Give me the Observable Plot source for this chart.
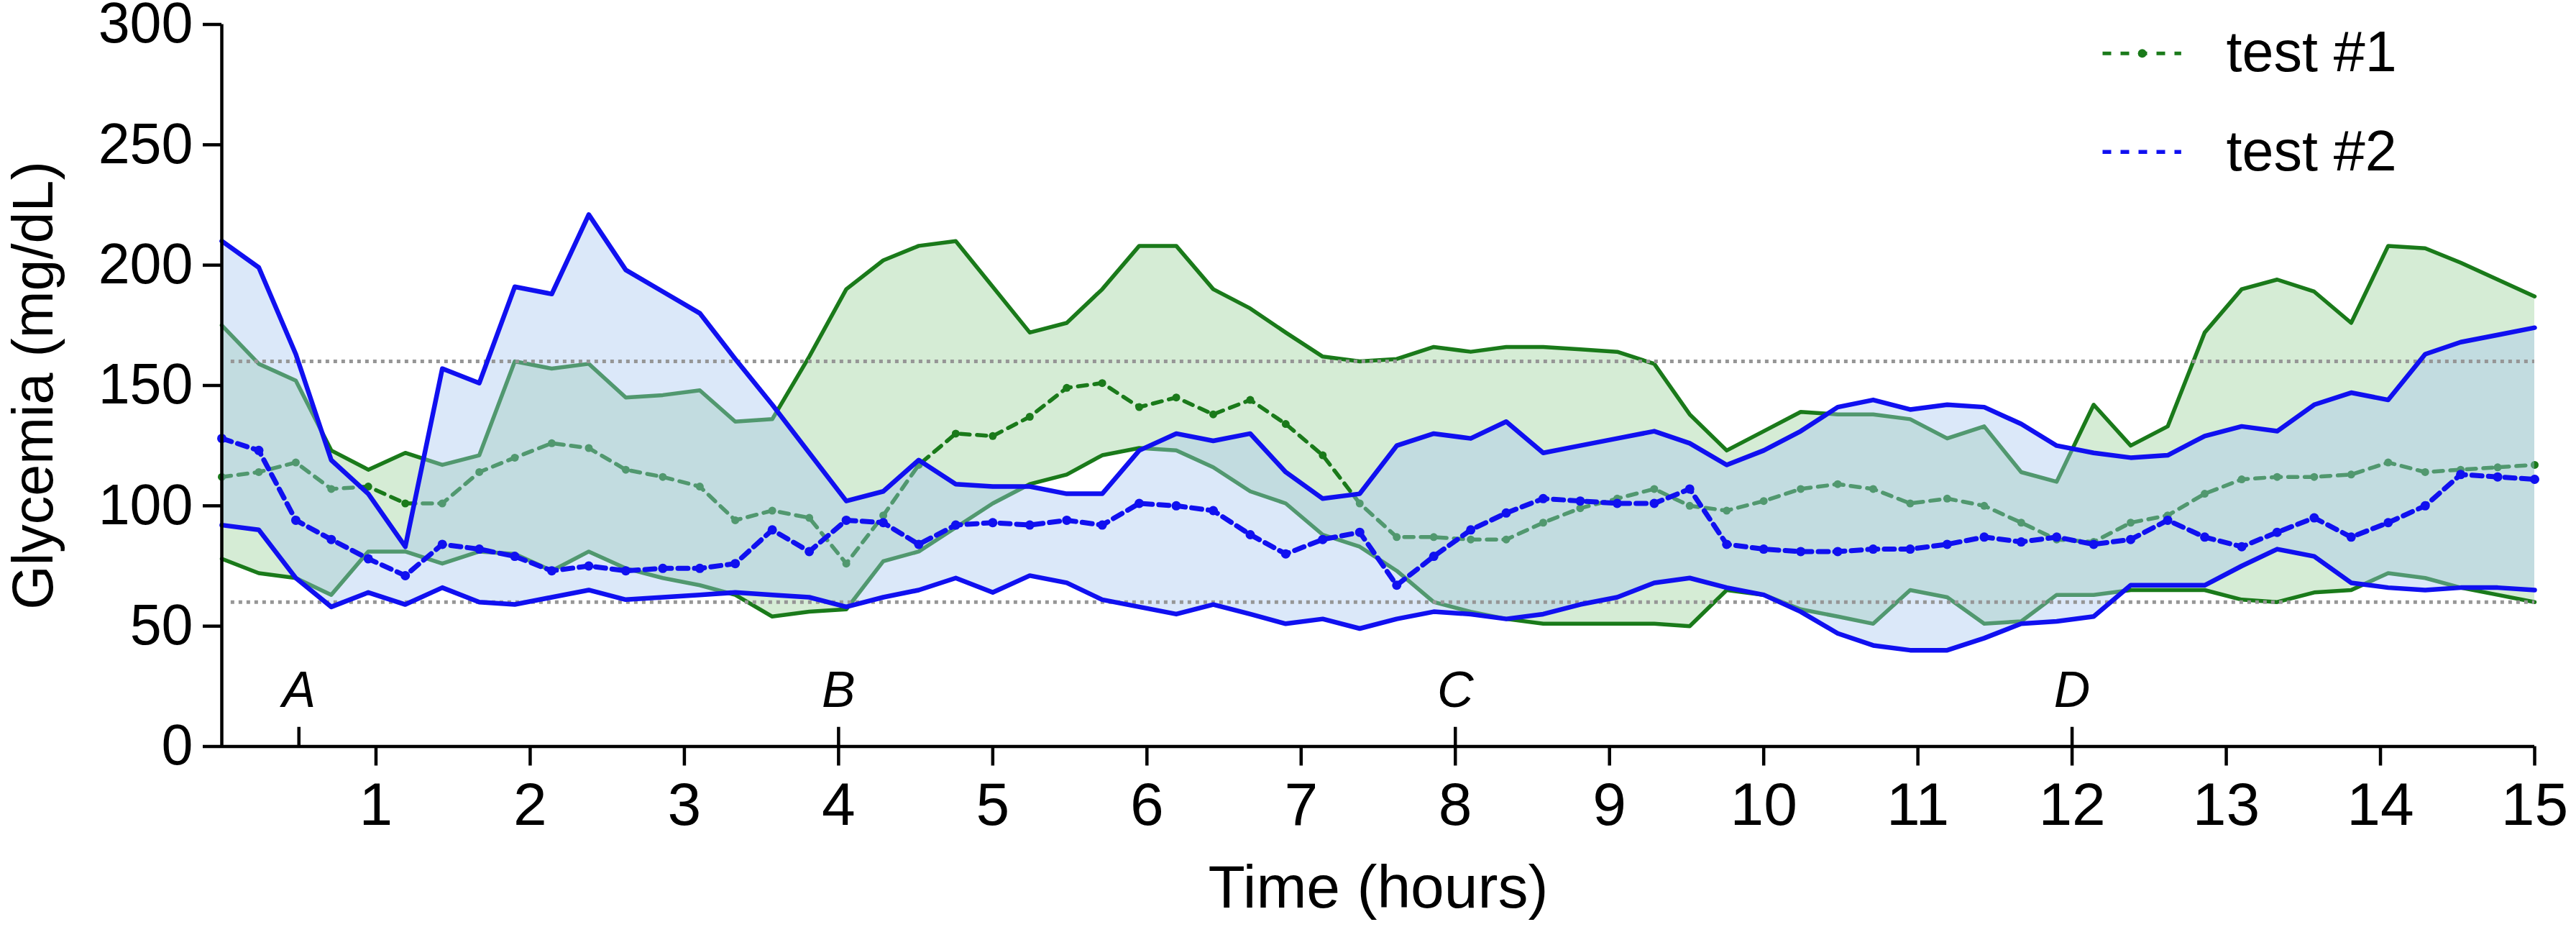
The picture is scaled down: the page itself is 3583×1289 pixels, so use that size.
<!DOCTYPE html>
<html>
<head>
<meta charset="utf-8">
<script src="https://cdn.jsdelivr.net/npm/d3@7"></script>
<script src="https://cdn.jsdelivr.net/npm/@observablehq/plot@0.6"></script>
<style>
  html, body { margin: 0; padding: 0; background: #ffffff; }
  #chart svg { display: block; overflow: visible; }
</style>
</head>
<body>
<div id="chart"></div>
<script>
// ---- data ----
const hours = [0.00, 0.24, 0.48, 0.71, 0.95, 1.19, 1.43, 1.67, 1.90, 2.14, 2.38, 2.62, 2.86, 3.10, 3.33, 3.57,
  3.81, 4.05, 4.29, 4.52, 4.76, 5.00, 5.24, 5.48, 5.71, 5.95, 6.19, 6.43, 6.67, 6.90, 7.14, 7.38,
  7.62, 7.86, 8.10, 8.33, 8.57, 8.81, 9.05, 9.29, 9.52, 9.76, 10.00, 10.24, 10.48, 10.71, 10.95, 11.19,
  11.43, 11.67, 11.90, 12.14, 12.38, 12.62, 12.86, 13.10, 13.33, 13.57, 13.81, 14.05, 14.29, 14.52, 14.76, 15.00];

const test1Upper = [175, 159, 152, 123, 115, 122, 117, 121, 160, 157, 159, 145, 146, 148, 135, 136,
  162, 190, 202, 208, 210, 191, 172, 176, 190, 208, 208, 190, 182, 172, 162, 160,
  161, 166, 164, 166, 166, 165, 164, 159, 138, 123, 131, 139, 138, 138, 136, 128,
  133, 114, 110, 142, 125, 133, 172, 190, 194, 189, 176, 208, 207, 201, 194, 187];

const test1Lower = [78, 72, 70, 63, 81, 81, 76, 81, 80, 73, 81, 74, 70, 67, 63, 54,
  56, 57, 77, 81, 91, 101, 109, 113, 121, 124, 123, 116, 106, 101, 88, 83,
  73, 60, 56, 53, 51, 51, 51, 51, 50, 65, 63, 57, 54, 51, 65, 62,
  51, 52, 63, 63, 65, 65, 65, 61, 60, 64, 65, 72, 70, 66, 63, 60];

const test1Mean = [112, 114, 118, 107, 108, 101, 101, 114, 120, 126, 124, 115, 112, 108, 94, 98,
  95, 76, 96, 117, 130, 129, 137, 149, 151, 141, 145, 138, 144, 134, 121, 101,
  87, 87, 86, 86, 93, 99, 103, 107, 100, 98, 102, 107, 109, 107, 101, 103,
  100, 93, 86, 85, 93, 96, 105, 111, 112, 112, 113, 118, 114, 115, 116, 117];

const test2Upper = [210, 199, 163, 119, 105, 83, 157, 151, 191, 188, 221, 198, 189, 180, 161, 142,
  122, 102, 106, 119, 109, 108, 108, 105, 105, 123, 130, 127, 130, 114, 103, 105,
  125, 130, 128, 135, 122, 125, 128, 131, 126, 117, 123, 131, 141, 144, 140, 142,
  141, 134, 125, 122, 120, 121, 129, 133, 131, 142, 147, 144, 163, 168, 171, 174];

const test2Lower = [92, 90, 70, 58, 64, 59, 66, 60, 59, 62, 65, 61, 62, 63, 64, 63,
  62, 58, 62, 65, 70, 64, 71, 68, 61, 58, 55, 59, 55, 51, 53, 49,
  53, 56, 55, 53, 55, 59, 62, 68, 70, 66, 63, 56, 47, 42, 40, 40,
  45, 51, 52, 54, 67, 67, 67, 75, 82, 79, 68, 66, 65, 66, 66, 65];

const test2Mean = [128, 123, 94, 86, 78, 71, 84, 82, 79, 73, 75, 73, 74, 74, 76, 90,
  81, 94, 93, 84, 92, 93, 92, 94, 92, 101, 100, 98, 88, 80, 86, 89,
  67, 79, 90, 97, 103, 102, 101, 101, 107, 84, 82, 81, 81, 82, 82, 84,
  87, 85, 87, 84, 86, 94, 87, 83, 89, 95, 87, 93, 100, 113, 112, 111];

const seriesNames = ["test #1", "test #2"];
const xTicks = [1, 2, 3, 4, 5, 6, 7, 8, 9, 10, 11, 12, 13, 14, 15];
const yTicks = [0, 50, 100, 150, 200, 250, 300];
const eventLabels = ["A", "B", "C", "D"];
const eventHours = [0.5, 4, 8, 12];
const targetLimits = [60, 160];

// ---- styles ----
const GREEN = "#1a7a1a";
const BLUE = "#1010f0";
const GREEN_FILL = "#d5ecd5";
const BLUE_FILL = "#a5c6f0";
const FONT = "'Liberation Sans', Arial, Helvetica, sans-serif";

const rows = hours.map((t, i) => ({
  t,
  gHi: test1Upper[i], gLo: test1Lower[i], gMean: test1Mean[i],
  bHi: test2Upper[i], bLo: test2Lower[i], bMean: test2Mean[i]
}));

const legendRows = seriesNames.map((name, i) => ({
  name,
  y: i === 0 ? 288 : 247,
  color: i === 0 ? GREEN : BLUE,
  width: i === 0 ? 5 : 5.5
}));

const events = eventLabels.map((label, i) => ({label, t: eventHours[i]}));

const chart = Plot.plot({
  width: 3583,
  height: 1289,
  marginLeft: 308,
  marginRight: 58,
  marginTop: 33.5,
  marginBottom: 251.5,
  style: {fontFamily: FONT, background: "#ffffff", color: "#000000", overflow: "visible"},
  x: {domain: [0, 15]},
  y: {domain: [0, 300]},
  marks: [
    // test #1 band
    Plot.areaY(rows, {x: "t", y1: "gLo", y2: "gHi", fill: GREEN_FILL}),
    Plot.line(rows, {x: "t", y: "gHi", stroke: GREEN, strokeWidth: 5.5}),
    Plot.line(rows, {x: "t", y: "gLo", stroke: GREEN, strokeWidth: 5.5}),
    Plot.line(rows, {x: "t", y: "gMean", stroke: GREEN, strokeWidth: 5.5, strokeDasharray: "13,10"}),
    Plot.dot(rows, {x: "t", y: "gMean", r: 5.5, fill: GREEN, stroke: "none"}),
    // test #2 band (semi-transparent over test #1)
    Plot.areaY(rows, {x: "t", y1: "bLo", y2: "bHi", fill: BLUE_FILL, fillOpacity: 0.4}),
    // target range
    Plot.ruleY(targetLimits, {x1: 0.06, x2: 15, stroke: "#969696", strokeWidth: 5, strokeDasharray: "5,6"}),
    Plot.line(rows, {x: "t", y: "bHi", stroke: BLUE, strokeWidth: 6.5}),
    Plot.line(rows, {x: "t", y: "bLo", stroke: BLUE, strokeWidth: 6.5}),
    Plot.line(rows, {x: "t", y: "bMean", stroke: BLUE, strokeWidth: 7, strokeDasharray: "14,9"}),
    Plot.dot(rows, {x: "t", y: "bMean", r: 6.5, fill: BLUE, stroke: "none"}),
    // axes
    Plot.axisY({ticks: yTicks, tickSize: 26, tickPadding: 14, strokeWidth: 4.5, fontSize: 79,
      label: "Glycemia (mg/dL)", labelAnchor: "center", labelOffset: 292, labelArrow: "none"}),
    Plot.axisX({ticks: xTicks, tickSize: 27, tickPadding: 22, strokeWidth: 4.5, fontSize: 84,
      label: "Time (hours)", labelAnchor: "center", labelOffset: 224, labelArrow: "none"}),
    Plot.ruleX([0], {stroke: "#000", strokeWidth: 4.5}),
    Plot.ruleY([0], {stroke: "#000", strokeWidth: 4.5}),
    // event markers
    Plot.ruleX(events, {x: "t", y1: 0, y2: 8, stroke: "#000", strokeWidth: 4.5}),
    Plot.text(events, {x: "t", y: 16.3, text: "label", fontStyle: "italic", fontSize: 70, lineAnchor: "bottom", fill: "#000"}),
    // legend
    Plot.ruleY(legendRows, {y: "y", x1: 12.2, x2: 12.71, stroke: "color", strokeWidth: "width", strokeDasharray: "12,13"}),
    Plot.dot(legendRows.slice(0, 1), {x: 12.455, y: "y", r: 6, fill: "color", stroke: "none"}),
    Plot.text(legendRows, {x: 13.0, y: "y", text: "name", textAnchor: "start", lineAnchor: "middle", fontSize: 79, fill: "#000"})
  ]
});

document.getElementById("chart").appendChild(chart);
</script>
</body>
</html>
